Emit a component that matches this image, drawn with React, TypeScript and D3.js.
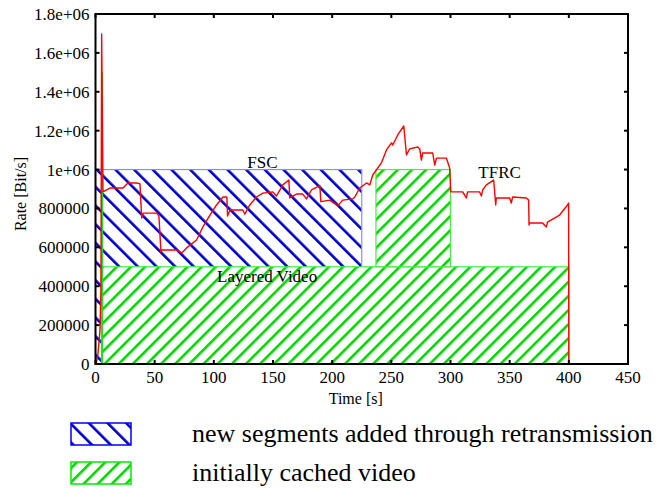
import React, { useEffect, useRef } from "react";
import * as d3 from "d3";

const W = 662;
const H = 488;

const timeTicks = [0, 50, 100, 150, 200, 250, 300, 350, 400, 450];
const rateTicks = [0, 200000, 400000, 600000, 800000, 1000000, 1200000, 1400000, 1600000, 1800000];
const rateTickLabels = ["0", "200000", "400000", "600000", "800000", "1e+06", "1.2e+06", "1.4e+06", "1.6e+06", "1.8e+06"];

// measured sending rate (red curve)
const rateTime = [
  0.4, 2, 3.8, 4.6, 5.2, 6.3, 12.2, 23.2, 27.4, 35, 37.6, 39, 40.1, 51.9, 53.6, 55.3, 56.1, 68.6,
  72.8, 77, 85.4, 90.8, 96.7, 102.3, 107.7, 111, 111.6, 113.6, 124.5, 126.2, 130.4, 136.1, 141.4,
  149.9, 153, 158.3, 163.4, 164.2, 169.9, 175.2, 178.3, 182.5, 189.6, 190.4, 198, 204.7, 208.9,
  217.4, 219.1, 223.3, 229, 231.8, 234.3, 241.6, 245.9, 250.1, 251.2, 255.4, 260.5, 262.8, 265.5,
  272.3, 274, 275.4, 276.5, 285, 286.7, 288.1, 296.5, 299.3, 300.2, 310.3, 313.4, 314.5, 324.6,
  326.1, 327.2, 330.3, 336.5, 338.2, 338.7, 350, 351.4, 352.5, 364.1, 366, 366.4, 366.8, 377.8,
  381, 382, 392.2, 398.9, 399.8, 400,
];
const rateValue = [
  0, 46000, 175000, 380000, 1697000, 885000, 905000, 905000, 931000, 931000, 926000, 751000, 776000,
  776000, 761000, 576000, 586000, 586000, 571000, 597000, 638000, 705000, 766000, 818000, 859000,
  859000, 761000, 792000, 792000, 771000, 818000, 859000, 879000, 885000, 864000, 921000, 946000,
  854000, 874000, 874000, 849000, 895000, 917000, 835000, 843000, 813000, 843000, 849000, 859000,
  905000, 931000, 921000, 972000, 1034000, 1101000, 1137000, 1126000, 1178000, 1224000, 1075000,
  1106000, 1116000, 1106000, 1049000, 1085000, 1085000, 1023000, 1059000, 1059000, 1008000, 885000,
  885000, 854000, 885000, 885000, 864000, 895000, 921000, 946000, 818000, 854000, 854000, 828000,
  859000, 854000, 843000, 715000, 725000, 725000, 705000, 730000, 766000, 818000, 828000, 0,
];

// blocks: [t start, t end, rate low, rate high]
const fscBlocks = [[0, 225, 0, 1000000]];
const cachedBlocks = [[5, 400, 0, 500000], [237, 300, 500000, 1000000]];
const cachedSpikeTime = [5.6, 5.6];
const cachedSpikeRate = [0, 1500000];

const labelText = ["FSC", "Layered Video", "TFRC"];
const labelTime = [141, 145, 341.5];
const labelRate = [1008000, 421000, 958000];

const legendNames = ["new segments added through retransmission", "initially cached video"];

const FONT = "Liberation Serif, Tinos, Times New Roman, DejaVu Serif, serif";

export default function App() {
  const ref = useRef<SVGSVGElement | null>(null);

  useEffect(() => {
    const svg = d3.select(ref.current);
    svg.selectAll("*").remove();

    const left = 95.5, right = 628, top = 14, bottom = 364;
    const x = d3.scaleLinear().domain([0, 450]).range([left, right]);
    const y = d3.scaleLinear().domain([0, 1800000]).range([bottom, top]);

    const defs = svg.append("defs");
    const hatch = (id: string, color: string, gap: number, angle: number) => {
      const p = defs.append("pattern")
        .attr("id", id)
        .attr("patternUnits", "userSpaceOnUse")
        .attr("width", gap)
        .attr("height", gap)
        .attr("patternTransform", `rotate(${angle})`);
      p.append("rect").attr("width", gap).attr("height", gap).attr("fill", "#fff");
      p.append("rect").attr("x", 0).attr("width", 2.6).attr("height", gap).attr("fill", color);
    };
    hatch("blueHatch", "#0000cc", 13.2, -45);
    hatch("greenHatch", "#00d400", 10, 45);

    // FSC block
    svg.append("g").selectAll("rect").data(fscBlocks).join("rect")
      .attr("x", d => x(d[0]))
      .attr("y", d => y(d[3]))
      .attr("width", d => x(d[1]) - x(d[0]))
      .attr("height", d => y(d[2]) - y(d[3]))
      .attr("fill", "url(#blueHatch)")
      .attr("stroke", "#8c8cff")
      .attr("stroke-width", 1.2);

    // cached video blocks
    svg.append("g").selectAll("rect").data(cachedBlocks).join("rect")
      .attr("x", d => x(d[0]))
      .attr("y", d => y(d[3]))
      .attr("width", d => x(d[1]) - x(d[0]))
      .attr("height", d => y(d[2]) - y(d[3]))
      .attr("fill", "url(#greenHatch)")
      .attr("stroke", "#44ee44")
      .attr("stroke-width", 1.2);

    svg.append("line")
      .attr("x1", x(cachedSpikeTime[0])).attr("x2", x(cachedSpikeTime[1]))
      .attr("y1", y(cachedSpikeRate[0])).attr("y2", y(cachedSpikeRate[1]))
      .attr("stroke", "#22dd22")
      .attr("stroke-width", 2);

    // rate curve
    const line = d3.line<number>()
      .x(d => x(rateTime[d]))
      .y(d => y(rateValue[d]));
    svg.append("path")
      .datum(d3.range(rateTime.length))
      .attr("d", line)
      .attr("fill", "none")
      .attr("stroke", "#ff0000")
      .attr("stroke-width", 1.4)
      .attr("stroke-linejoin", "round");

    // labels
    svg.append("g").selectAll("text").data(labelText).join("text")
      .attr("x", (d, i) => x(labelTime[i]))
      .attr("y", (d, i) => y(labelRate[i]))
      .attr("text-anchor", "middle")
      .style("font-family", FONT)
      .style("font-size", "17px")
      .text(d => d);

    // frame and ticks
    const axis = svg.append("g").attr("stroke", "#000").attr("stroke-width", 2);
    axis.append("rect")
      .attr("x", left).attr("y", top)
      .attr("width", right - left).attr("height", bottom - top)
      .attr("fill", "none");
    const tl = 4;
    timeTicks.forEach(t => {
      axis.append("line").attr("x1", x(t)).attr("x2", x(t)).attr("y1", bottom).attr("y2", bottom - tl);
      axis.append("line").attr("x1", x(t)).attr("x2", x(t)).attr("y1", top).attr("y2", top + tl);
    });
    rateTicks.forEach(r => {
      axis.append("line").attr("x1", left).attr("x2", left + tl).attr("y1", y(r)).attr("y2", y(r));
      axis.append("line").attr("x1", right).attr("x2", right - tl).attr("y1", y(r)).attr("y2", y(r));
    });

    const txt = svg.append("g").style("font-family", FONT).style("font-size", "17px").attr("fill", "#000");
    txt.selectAll(".xt").data(timeTicks).join("text")
      .attr("x", d => x(d))
      .attr("y", bottom + 19)
      .attr("text-anchor", "middle")
      .text(d => String(d));
    txt.selectAll(".yt").data(rateTicks).join("text")
      .attr("x", left - 6)
      .attr("y", d => y(d) + 6)
      .attr("text-anchor", "end")
      .text((d, i) => rateTickLabels[i]);
    txt.append("text")
      .attr("x", (left + right) / 2 - 6)
      .attr("y", 404)
      .attr("text-anchor", "middle")
      .style("font-size", "16px")
      .text("Time [s]");
    txt.append("text")
      .attr("transform", `translate(26,194) rotate(-90)`)
      .attr("text-anchor", "middle")
      .style("font-size", "16px")
      .text("Rate [Bit/s]");

    // legend
    const lg = svg.append("g");
    const swFill = ["url(#blueHatch)", "url(#greenHatch)"];
    const swStroke = ["#0000ff", "#00ee00"];
    legendNames.forEach((name, i) => {
      const yy = 423 + i * 39;
      lg.append("rect")
        .attr("x", 71).attr("y", yy)
        .attr("width", 60).attr("height", 22)
        .attr("fill", swFill[i])
        .attr("stroke", swStroke[i])
        .attr("stroke-width", 1.5);
      lg.append("text")
        .attr("x", 192).attr("y", yy + 19)
        .style("font-family", FONT)
        .style("font-size", "26px")
        .text(name);
    });
  }, []);

  return (
    <div style={{ position: "absolute", left: 0, top: 0 }}>
      <svg ref={ref} width={W} height={H} style={{ display: "block", background: "#fff" }} />
    </div>
  );
}
